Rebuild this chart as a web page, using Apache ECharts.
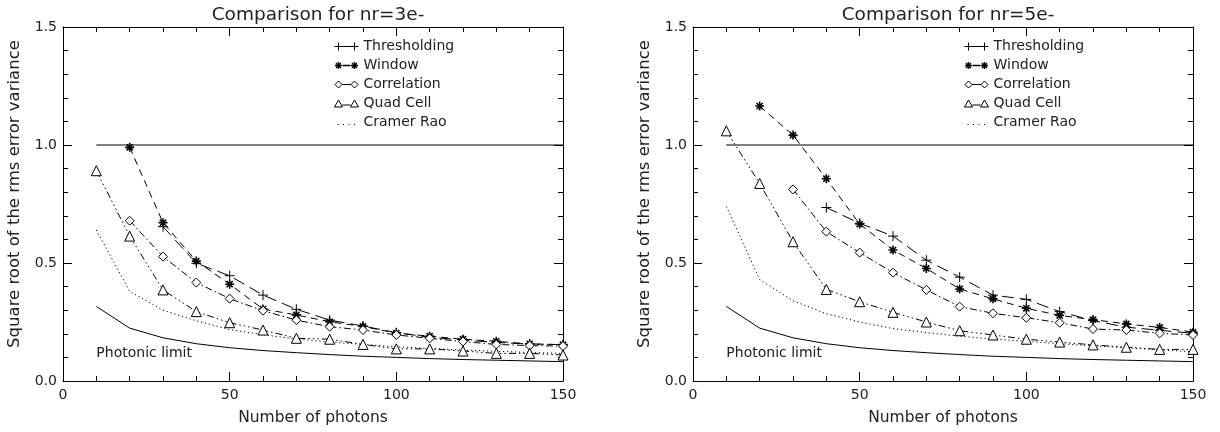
<!DOCTYPE html>
<html>
<head>
<meta charset="utf-8">
<title>Comparison for nr=3e- / nr=5e-</title>
<script src="https://cdn.jsdelivr.net/npm/echarts@6/dist/echarts.min.js"></script>
<style>
    html,body{margin:0;padding:0;background:#fff;}
    #main{width:1220px;height:432px;}
</style>
</head>
<body>
<div id="main"></div>
<script>
// number of photons (x)
var photons = [10,20,30,40,50,60,70,80,90,100,110,120,130,140,150];
// photonic limit, same on both panels
var photonicLimit = [0.316,0.224,0.183,0.158,0.141,0.129,0.120,0.112,0.105,0.100,0.095,0.091,0.088,0.085,0.082];
// reference line at 1.0
var unityX = [10,150];
var unityY = [1.0,1.0];

// nr=3e-
var thresh3 = [null,null,0.654,0.499,0.446,0.364,0.304,0.258,0.233,0.205,0.185,0.174,0.163,0.157,0.154];
var window3 = [null,0.99,0.671,0.508,0.41,0.305,0.28,0.251,0.231,0.203,0.19,0.177,0.168,0.157,0.154];
var corr3   = [null,0.679,0.527,0.417,0.349,0.298,0.258,0.23,0.216,0.195,0.181,0.167,0.155,0.15,0.148];
var quad3   = [0.891,0.614,0.386,0.294,0.247,0.216,0.181,0.177,0.155,0.136,0.136,0.127,0.117,0.117,0.11];
var cramer3 = [0.64,0.38,0.30,0.255,0.218,0.196,0.178,0.165,0.155,0.145,0.138,0.131,0.126,0.121,0.117];

// nr=5e-
var thresh5 = [null,null,null,0.735,0.668,0.614,0.512,0.44,0.364,0.346,0.294,0.256,0.228,0.215,0.202];
var window5 = [null,1.165,1.042,0.857,0.665,0.555,0.477,0.39,0.348,0.308,0.278,0.26,0.242,0.227,0.207];
var corr5   = [null,null,0.812,0.633,0.544,0.459,0.386,0.315,0.287,0.268,0.247,0.22,0.216,0.202,0.195];
var quad5   = [1.06,0.837,0.59,0.388,0.336,0.291,0.25,0.213,0.195,0.177,0.165,0.153,0.143,0.134,0.134];
var cramer5 = [0.74,0.43,0.34,0.285,0.25,0.222,0.205,0.19,0.178,0.168,0.158,0.149,0.141,0.132,0.124];

var titles = ["Comparison for nr=3e-","Comparison for nr=5e-"];
var names = ["Thresholding","Window","Correlation","Quad Cell","Cramer Rao"];
var xTicks = {min:0,max:150,interval:50};
var yTicks = {min:0,max:1.5,interval:0.5};

var FONT = "DejaVu Sans";
var INK = "#222";

// IDL-like plot symbols
var plusSym = 'path://M0,5L10,5M5,0L5,10';
var starSym = 'path://M5,0L5,10M0,5L10,5M1.6,1.6L8.4,8.4M1.6,8.4L8.4,1.6';

// legend samples (symbol - line - symbol), drawn in a 24x10 box
var BOX = 'M0,0M24,10';
var legendIcons = [
    'path://'+BOX+'M0,5L24,5M4,1L4,9M20,1L20,9',
    'path://'+BOX+'M4,1.5L4,8.5M0.5,5L7.5,5M1.5,2.5L6.5,7.5M1.5,7.5L6.5,2.5M8,5L16,5'+
        'M20,1.5L20,8.5M16.5,5L23.5,5M17.5,2.5L22.5,7.5M17.5,7.5L22.5,2.5',
    'path://'+BOX+'M4,1.5L7.5,5L4,8.5L0.5,5ZM7.5,5L16.5,5M20,1.5L23.5,5L20,8.5L16.5,5Z',
    'path://'+BOX+'M4,1.5L8,8.5L0,8.5ZM8,6.5L16,6.5M20,1.5L24,8.5L16,8.5Z',
    'path://'+BOX+'M3,7h1v1h-1zM8.5,7h1v1h-1zM14,7h1v1h-1zM19.5,7h1v1h-1z'
];

function pairs(xs,ys){
    var out = [];
    for(var i=0;i<xs.length;i++){
        out.push([xs[i],ys[i]]);
    }
    return out;
}

// style of each curve
function curve(name,ys,idx,symbol,size,dash,bw){
    return {
        name:name,
        type:'line',
        xAxisIndex:idx*2,
        yAxisIndex:idx*2,
        data:pairs(photons,ys),
        symbol:symbol,
        symbolSize:size,
        showAllSymbol:true,
        connectNulls:false,
        animation:false,
        lineStyle:{color:'#000',width:1,type:dash},
        itemStyle:{color:symbol==='none'?'#000':'#fff',borderColor:'#000',borderWidth:bw||1},
        emphasis:{disabled:true},
        z:3
    };
}

function legendData(){
    var out = [];
    for(var i=0;i<names.length;i++){
        var dotted = (i==4);
        out.push({
            name:names[i],
            icon:legendIcons[i],
            itemStyle:{
                color:dotted?'#000':'none',
                borderColor:dotted?'none':'#000',
                borderWidth:dotted?0:(i==1?1.4:1)
            }
        });
    }
    return out;
}

function axesFor(idx){
    var tick = {show:true,inside:true,length:9,lineStyle:{color:'#000'}};
    var minor = {show:true,splitNumber:5,length:5,lineStyle:{color:'#000'}};
    var line = {show:true,onZero:false,lineStyle:{color:'#000',width:1}};
    var x = [{
        type:'value',gridIndex:idx,position:'bottom',
        min:xTicks.min,max:xTicks.max,interval:xTicks.interval,
        name:'Number of photons',nameLocation:'middle',nameGap:29,
        nameTextStyle:{color:INK,fontFamily:FONT,fontSize:15.5},
        axisLine:line,axisTick:tick,minorTick:minor,
        axisLabel:{color:INK,fontFamily:FONT,fontSize:14,margin:7},
        splitLine:{show:false}
    },{
        type:'value',gridIndex:idx,position:'top',
        min:xTicks.min,max:xTicks.max,interval:xTicks.interval,
        axisLine:line,axisTick:tick,minorTick:minor,
        axisLabel:{show:false},splitLine:{show:false}
    }];
    var y = [{
        type:'value',gridIndex:idx,position:'left',
        min:yTicks.min,max:yTicks.max,interval:yTicks.interval,
        name:'Square root of the rms error variance',nameLocation:'middle',nameGap:40,
        nameTextStyle:{color:INK,fontFamily:FONT,fontSize:16.5,padding:[0,0,0,20]},
        axisLine:line,axisTick:tick,minorTick:minor,
        axisLabel:{color:INK,fontFamily:FONT,fontSize:14,margin:6,
            formatter:function(v){return v.toFixed(1);}},
        splitLine:{show:false}
    },{
        type:'value',gridIndex:idx,position:'right',
        min:yTicks.min,max:yTicks.max,interval:yTicks.interval,
        axisLine:line,axisTick:tick,minorTick:minor,
        axisLabel:{show:false},splitLine:{show:false}
    }];
    return {x:x,y:y};
}

function panelSeries(idx,th,wi,co,qu,cr){
    var s = [];
    s.push(curve(names[0],th,idx,plusSym,10,[12,6],1));
    s.push(curve(names[1],wi,idx,starSym,9,[7,5],1.6));
    s.push(curve(names[2],co,idx,'diamond',9,[7,3,1.5,3],1));
    s.push(curve(names[3],qu,idx,'triangle',10,[7,3,1.5,3,1.5,3,1.5,3],1));
    s.push(curve(names[4],cr,idx,'none',0,[1.2,2.8],1));
    // photonic limit with its text
    var ph = curve('Photonic limit',photonicLimit,idx,'none',0,'solid',1);
    ph.markPoint = {
        symbol:'circle',symbolSize:0,silent:true,animation:false,
        label:{show:true,position:'right',distance:0,formatter:'Photonic limit',
            color:INK,fontFamily:FONT,fontSize:14},
        data:[{coord:[10,0.119]}]
    };
    s.push(ph);
    s.push({
        name:'unity',type:'line',xAxisIndex:idx*2,yAxisIndex:idx*2,
        data:pairs(unityX,unityY),symbol:'none',animation:false,
        lineStyle:{color:'#000',width:1},emphasis:{disabled:true}
    });
    return s;
}

var a0 = axesFor(0), a1 = axesFor(1);
var titleStyle = {color:INK,fontFamily:FONT,fontSize:18.5,fontWeight:'normal'};
var legendBase = {orient:'vertical',top:34,itemWidth:24,itemHeight:10,itemGap:4,
    selectedMode:false,textStyle:{color:INK,fontFamily:FONT,fontSize:14}};

var option = {
    backgroundColor:'#fff',
    animation:false,
    title:[
        {text:titles[0],left:313,top:1,textAlign:'center',textStyle:titleStyle},
        {text:titles[1],left:943,top:1,textAlign:'center',textStyle:titleStyle}
    ],
    grid:[
        {left:63,right:657,top:27,bottom:51},
        {left:693,right:27,top:27,bottom:51}
    ],
    legend:[
        Object.assign({data:legendData(),left:327},legendBase),
        Object.assign({data:legendData(),left:957},legendBase)
    ],
    xAxis:a0.x.concat(a1.x),
    yAxis:a0.y.concat(a1.y),
    series:panelSeries(0,thresh3,window3,corr3,quad3,cramer3)
        .concat(panelSeries(1,thresh5,window5,corr5,quad5,cramer5))
};

var myChart = echarts.init(document.getElementById('main'));
myChart.setOption(option);
</script>
</body>
</html>
